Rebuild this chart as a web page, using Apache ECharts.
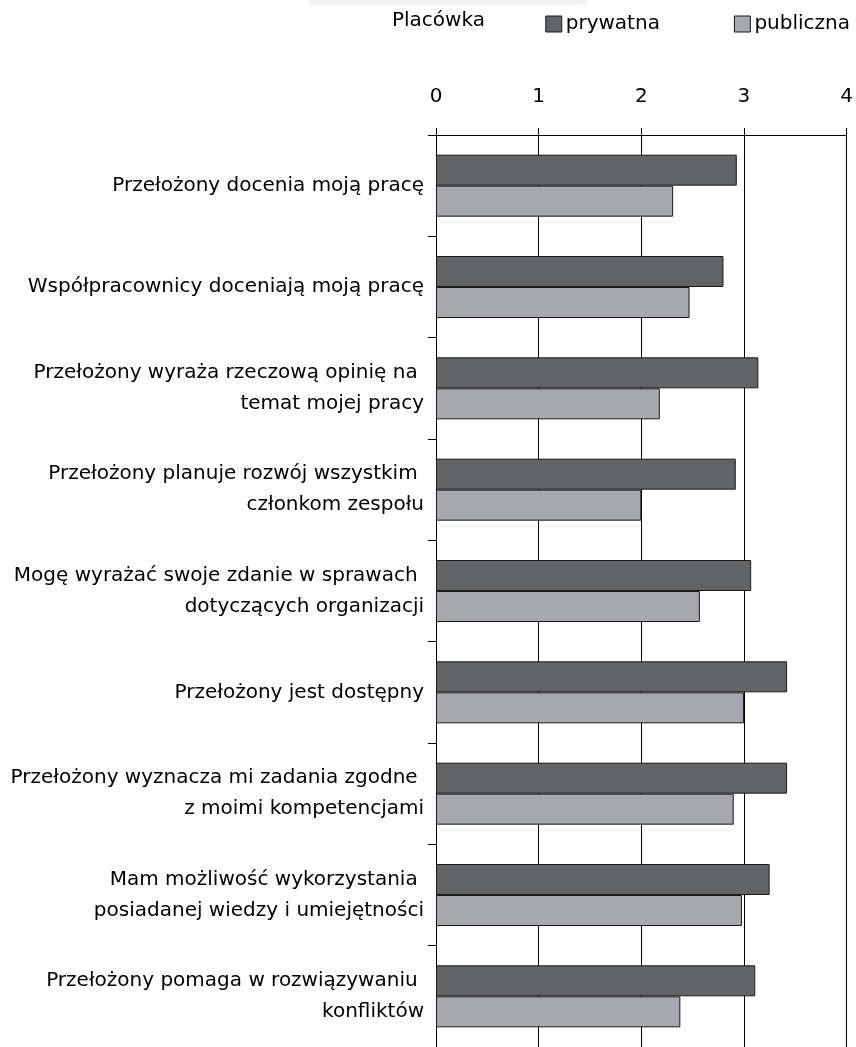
<!DOCTYPE html>
<html>
<head>
<meta charset="utf-8">
<script src="https://cdn.jsdelivr.net/npm/echarts@6/dist/echarts.min.js"></script>
<style>
html,body{margin:0;padding:0;background:#fff;}
#c{width:856px;height:1047px;}
</style>
</head>
<body>
<div id="c"></div>
<script>
const categories = [
  "Przełożony docenia moją pracę",
  "Współpracownicy doceniają moją pracę",
  "Przełożony wyraża rzeczową opinię na \ntemat mojej pracy",
  "Przełożony planuje rozwój wszystkim \nczłonkom zespołu",
  "Mogę wyrażać swoje zdanie w sprawach \ndotyczących organizacji",
  "Przełożony jest dostępny",
  "Przełożony wyznacza mi zadania zgodne \nz moimi kompetencjami",
  "Mam możliwość wykorzystania \nposiadanej wiedzy i umiejętności",
  "Przełożony pomaga w rozwiązywaniu \nkonfliktów"
];
const prywatna = [2.93, 2.80, 3.14, 2.92, 3.07, 3.42, 3.42, 3.25, 3.11];
const publiczna = [2.31, 2.47, 2.18, 2.00, 2.57, 3.00, 2.90, 2.98, 2.38];
const seriesNames = ["prywatna", "publiczna"];
const legendTitle = "Placówka";
const xTicks = [0, 1, 2, 3, 4];

const FONT = "DejaVu Sans";
const FS = 20;
const chart = echarts.init(document.getElementById('c'));
chart.setOption({
  backgroundColor: '#fff',
  animation: false,
  textStyle: { fontFamily: FONT },
  graphic: [
    { type: 'rect', shape: { x: 308, y: -6, width: 279, height: 11, r: 5 }, style: { fill: '#f2f2f2' } },
    { type: 'text', left: 392, top: 11, style: { text: legendTitle, font: FS + 'px "' + FONT + '"', fill: '#000' } }
  ],
  legend: {
    data: seriesNames,
    right: 6,
    top: 14,
    padding: 0,
    itemWidth: 16,
    itemHeight: 16,
    itemGap: 74,
    itemStyle: { borderColor: '#1a1a1a', borderWidth: 1 },
    textStyle: { fontFamily: FONT, fontSize: FS, color: '#000', padding: [0, 0, 0, -1] },
    icon: 'rect'
  },
  grid: { left: 436, right: 6, top: 135, height: 914, containLabel: false },
  xAxis: {
    type: 'value',
    position: 'top',
    min: 0, max: 4, interval: 1,
    axisLine: { show: true, lineStyle: { color: '#000', width: 1 } },
    axisTick: { show: true, length: 7, lineStyle: { color: '#000' } },
    axisLabel: { fontFamily: FONT, fontSize: FS, color: '#000', margin: 28,
      formatter: v => String(xTicks[v] !== undefined ? xTicks[v] : v) },
    splitLine: { show: true, lineStyle: { color: '#000', width: 1 } }
  },
  yAxis: {
    type: 'category',
    inverse: true,
    data: categories,
    axisLine: { show: true, lineStyle: { color: '#000', width: 1 } },
    axisTick: { show: true, length: 8, lineStyle: { color: '#000' } },
    axisLabel: { fontFamily: FONT, fontSize: FS, color: '#000', margin: 12, lineHeight: 31, align: 'right' },
    splitLine: { show: false }
  },
  series: [
    { name: seriesNames[0], type: 'bar', data: prywatna, barWidth: 31, barGap: '0%',
      itemStyle: { color: '#636466', borderColor: '#1a1a1a', borderWidth: 1 } },
    { name: seriesNames[1], type: 'bar', data: publiczna, barWidth: 31, barGap: '0%',
      itemStyle: { color: '#a7a8ab', borderColor: '#1a1a1a', borderWidth: 1 } }
  ]
});
</script>
</body>
</html>
